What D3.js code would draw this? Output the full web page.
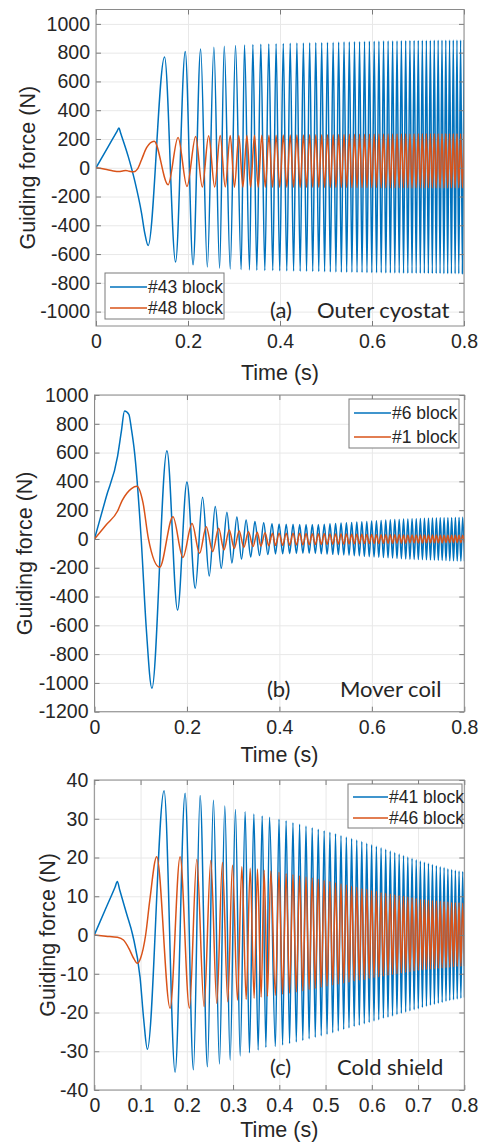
<!DOCTYPE html>
<html>
<head>
<meta charset="utf-8">
<script src="https://cdn.jsdelivr.net/npm/d3@7/dist/d3.min.js"></script>
<style>
  body { margin: 0; background: #fff; }
  svg { display: block; }
</style>
</head>
<body>
<svg id="chart" width="482" height="1143"></svg>
<script>
// ---------------------------------------------------------------------------
// Data
// ---------------------------------------------------------------------------

// times of the turning points in the dense part of every record (s)
const tailT = [
  0.3915, 0.39937, 0.40712, 0.41473, 0.4222, 0.42953, 0.43675, 0.44385, 0.45083, 0.45771,
  0.46449, 0.47117, 0.47776, 0.48425, 0.49066, 0.49699, 0.50324, 0.50941, 0.51551, 0.52154,
  0.5275, 0.53339, 0.53921, 0.54498, 0.55068, 0.55633, 0.56192, 0.56745, 0.57293, 0.57836,
  0.58374, 0.58907, 0.59435, 0.59958, 0.60477, 0.60992, 0.61502, 0.62008, 0.6251, 0.63008,
  0.63502, 0.63992, 0.64479, 0.64962, 0.65441, 0.65917, 0.66389, 0.66858, 0.67324, 0.67787,
  0.68246, 0.68702, 0.69156, 0.69606, 0.70054, 0.70498, 0.7094, 0.71379, 0.71816, 0.7225,
  0.72681, 0.73109, 0.73536, 0.73959, 0.74381, 0.748, 0.75216, 0.75631, 0.76043, 0.76453,
  0.7686, 0.77266, 0.77669, 0.78071, 0.7847, 0.78867, 0.79262, 0.79655, 0.80047,
];

// (a) Outer cyostat
const a43Early = [
  [0, 0], [0.025, 138], [0.046, 255], [0.05, 277], [0.053, 247], [0.07, 79], [0.0845, -95],
  [0.099, -315], [0.106, -454], [0.1133, -540], [0.149, 770], [0.173, -655], [0.194, 808],
  [0.211, -675], [0.2275, 825], [0.242, -690], [0.2563, 838], [0.2687, -698], [0.2788, 845],
  [0.2918, -703], [0.3033, 850], [0.3156, -707], [0.3228, 853], [0.3337, -710], [0.341, 856],
  [0.3496, -712], [0.3583, 858], [0.367, -714], [0.3756, 860], [0.3843, -715],
];
const a43Tail = [
  862, -716, 864, -717, 866, -718, 867, -719, 868, -720,
  869, -721, 870, -722, 871, -723, 872, -724, 873, -725,
  874, -726, 875, -727, 876, -727, 877, -728, 878, -728,
  879, -729, 880, -729, 880, -730, 881, -730, 882, -731,
  882, -731, 883, -732, 883, -732, 884, -733, 884, -733,
  885, -733, 885, -734, 885, -734, 886, -734, 886, -735,
  886, -735, 887, -735, 887, -735, 887, -736, 887, -736,
  888, -736, 888, -736, 888, -736, 888, -736, 888,
];
const a48Early = [
  [0, 0], [0.02, -10], [0.0375, -22], [0.05, -26], [0.058, -22], [0.065, -19], [0.072, -24],
  [0.0823, -28], [0.09, -10], [0.099, 56], [0.11, 140], [0.1264, 185], [0.1567, -118],
  [0.1784, 211], [0.1978, -130], [0.2167, 218], [0.2311, -134], [0.2449, 222], [0.258, -134],
  [0.27, 224], [0.281, -134], [0.2918, 225], [0.301, -135], [0.3105, 225], [0.3193, -135],
  [0.328, 225], [0.336, -135], [0.3445, 226], [0.3525, -135], [0.3605, 226], [0.368, -135],
  [0.376, 226], [0.3838, -135],
];
const a48Tail = [
  226, -135, 227, -135, 227, -135, 228, -136, 228, -136,
  229, -136, 229, -136, 230, -137, 230, -137, 230, -137,
  231, -137, 231, -137, 232, -138, 232, -138, 232, -138,
  233, -138, 233, -138, 233, -138, 234, -139, 234, -139,
  234, -139, 234, -139, 235, -139, 235, -139, 235, -139,
  235, -140, 235, -140, 236, -140, 236, -140, 236, -140,
  236, -140, 236, -140, 236, -140, 236, -140, 236, -140,
  236, -140, 236, -140, 236, -140, 236, -140, 236,
];

// (b) Mover coil
const b6Early = [
  [0, 0], [0.025, 288], [0.05, 576], [0.058, 745], [0.065, 889], [0.0743, 866], [0.08, 760],
  [0.0867, 600], [0.101, 0], [0.112, -620], [0.1242, -1037], [0.1567, 613], [0.1797, -494],
  [0.2, 396], [0.218, -343], [0.2338, 289], [0.2482, -257], [0.2612, 226], [0.2742, -204],
  [0.2865, 185], [0.2973, -167], [0.308, 152], [0.318, -140], [0.328, 132], [0.338, -125],
  [0.347, 122], [0.357, -115], [0.366, 112], [0.375, -108], [0.384, 106],
];
const b6Tail = [
  -104, 104, -103, 103, -102, 102, -101, 101, -100, 100,
  -100, 100, -101, 101, -103, 103, -105, 105, -107, 108,
  -109, 110, -111, 112, -113, 115, -116, 117, -118, 120,
  -121, 122, -123, 125, -125, 127, -127, 129, -129, 131,
  -131, 133, -133, 135, -135, 136, -137, 138, -139, 139,
  -141, 140, -142, 141, -143, 142, -144, 143, -145, 144,
  -146, 145, -147, 146, -148, 147, -149, 147, -150, 148,
  -151, 148, -152, 149, -153, 149, -154, 150, -155,
];
const b1Early = [
  [0, 0], [0.025, 97], [0.05, 194], [0.06, 268], [0.07, 318], [0.08, 350], [0.0917, 366],
  [0.105, 250], [0.1167, 0], [0.141, -197], [0.1697, 155], [0.1913, -128], [0.211, 108],
  [0.2273, -100], [0.2417, 85], [0.2556, -88], [0.2686, 74], [0.28, -76], [0.2915, 62],
  [0.3024, -65], [0.313, 55], [0.323, -58], [0.333, 50], [0.343, -53], [0.352, 46],
  [0.36, -50], [0.369, 43], [0.377, -47], [0.385, 40],
];
const b1Tail = [
  -45, 40, -44, 40, -43, 39, -42, 39, -41, 38,
  -40, 37, -39, 37, -38, 36, -37, 35, -36, 35,
  -36, 34, -35, 34, -34, 33, -34, 33, -33, 32,
  -32, 31, -32, 31, -31, 30, -31, 30, -30, 30,
  -30, 29, -30, 29, -29, 29, -29, 28, -29, 28,
  -28, 28, -28, 28, -28, 27, -28, 27, -27, 27,
  -27, 27, -27, 27, -27, 26, -27, 26, -26, 26,
  -26, 26, -26, 26, -26, 26, -26, 26, -26,
];

// (c) Cold shield
const c41Early = [
  [0, 0], [0.025, 6.9], [0.045, 12.4], [0.0498, 13.8], [0.055, 11.6], [0.07, 5.4], [0.083, 0],
  [0.099, -11], [0.107, -22], [0.1147, -29.5], [0.1509, 37.2], [0.1747, -35.4], [0.1963, 36.6],
  [0.2143, -34.8], [0.2288, 36], [0.2446, -34], [0.2576, 34.8], [0.2706, -33.3], [0.2822, 33.3],
  [0.2937, -32.3], [0.3052, 32.4], [0.3154, -31.2], [0.3262, 31.8], [0.3355, -30.4], [0.345, 31.2],
  [0.3543, -29.7], [0.363, 30.7], [0.371, -29], [0.3788, 30.4],
];
const c41Tail = [
  -28.8, 29.9, -28.4, 29.5, -28.0, 29.0, -27.6, 28.6, -27.2, 28.1,
  -26.8, 27.7, -26.4, 27.3, -26.0, 26.9, -25.6, 26.5, -25.2, 26.1,
  -24.8, 25.7, -24.4, 25.3, -24.0, 24.9, -23.6, 24.5, -23.3, 24.1,
  -22.9, 23.7, -22.6, 23.3, -22.2, 22.9, -21.9, 22.5, -21.5, 22.1,
  -21.2, 21.7, -20.9, 21.3, -20.5, 20.9, -20.2, 20.5, -19.9, 20.1,
  -19.6, 19.8, -19.3, 19.4, -19.0, 19.1, -18.7, 18.8, -18.4, 18.5,
  -18.1, 18.2, -17.9, 17.9, -17.6, 17.6, -17.4, 17.4, -17.1, 17.1,
  -16.9, 16.9, -16.7, 16.7, -16.5, 16.5, -16.3, 16.4, -16.1,
];
const c46Early = [
  [0, 0], [0.025, -0.3], [0.05, -0.6], [0.063, -1.3], [0.075, -3.5], [0.085, -6], [0.093, -7.3],
  [0.1, -6], [0.111, 0], [0.12, 9], [0.135, 20.2], [0.1639, -18.9], [0.1855, 20.2],
  [0.2057, -18.9], [0.2216, 19.5], [0.2374, -18.5], [0.2519, 19.2], [0.2649, -17.6], [0.277, 18.7],
  [0.2886, -17.2], [0.2987, 18], [0.3096, -16.8], [0.319, 17.6], [0.3284, -16.6], [0.337, 17.2],
  [0.3456, -16.3], [0.3528, 17], [0.3608, -16], [0.3672, 16.7], [0.3744, -15.8], [0.3816, 16.5],
];
const c46Tail = [
  -15.6, 16.2, -15.3, 15.9, -15.0, 15.6, -14.7, 15.3, -14.4, 15.0,
  -14.1, 14.7, -13.8, 14.4, -13.5, 14.1, -13.2, 13.8, -12.9, 13.5,
  -12.7, 13.2, -12.4, 12.9, -12.2, 12.6, -11.9, 12.3, -11.7, 12.0,
  -11.5, 11.8, -11.2, 11.5, -11.0, 11.3, -10.8, 11.0, -10.6, 10.8,
  -10.4, 10.6, -10.2, 10.4, -10.0, 10.2, -9.8, 10.0, -9.6, 9.8,
  -9.5, 9.6, -9.3, 9.4, -9.1, 9.2, -9.0, 9.1, -8.9, 9.0,
  -8.8, 8.9, -8.7, 8.8, -8.6, 8.7, -8.5, 8.6, -8.4, 8.5,
  -8.3, 8.4, -8.2, 8.3, -8.1, 8.3, -8.1, 8.2, -8.0,
];

// tick labels
const ticksX02 = [0, 0.2, 0.4, 0.6, 0.8];
const ticksX01 = [0, 0.1, 0.2, 0.3, 0.4, 0.5, 0.6, 0.7, 0.8];
const ticksYa = [-1000, -800, -600, -400, -200, 0, 200, 400, 600, 800, 1000];
const ticksYb = [-1200, -1000, -800, -600, -400, -200, 0, 200, 400, 600, 800, 1000];
const ticksYc = [-40, -30, -20, -10, 0, 10, 20, 30, 40];

// ---------------------------------------------------------------------------

const BLUE = '#0072BD';
const ORANGE = '#D95319';
const INK = '#262626';
const AXIS_FONT = "'Liberation Sans', Arimo, Arial, sans-serif";
const NOTE_FONT = "Lato, 'Open Sans', sans-serif";

const svg = d3.select('#chart');
svg.append('rect').attr('width', 482).attr('height', 1143).attr('fill', '#fff');

const withTail = (early, tail) => early.concat(tailT.map((t, i) => [t, tail[i]]));

function drawPanel(p, idx) {
  const x = d3.scaleLinear().domain([0, 0.8]).range([p.left, p.right]);
  const y = d3.scaleLinear().domain(p.yDomain).range([p.bottom, p.top]);
  const w = p.right - p.left;
  const h = p.bottom - p.top;
  const g = svg.append('g');

  // grid
  g.append('g')
    .attr('transform', `translate(0,${p.bottom})`)
    .call(d3.axisBottom(x).tickValues(p.xTicks).tickSize(-h).tickFormat(''))
    .call((s) => s.select('.domain').remove())
    .selectAll('line').attr('stroke', '#e8e8e8');
  g.append('g')
    .attr('transform', `translate(${p.left},0)`)
    .call(d3.axisLeft(y).tickValues(p.yTicks).tickSize(-w).tickFormat(''))
    .call((s) => s.select('.domain').remove())
    .selectAll('line').attr('stroke', '#e8e8e8');

  // data lines
  const clipId = `clip${idx}`;
  g.append('clipPath').attr('id', clipId)
    .append('rect').attr('x', p.left).attr('y', p.top).attr('width', w).attr('height', h);
  const line = d3.line()
    .x((d) => x(d[0]))
    .y((d) => y(d[1]))
    .curve(d3.curveMonotoneX);
  p.series.forEach((s) => {
    g.append('path')
      .attr('clip-path', `url(#${clipId})`)
      .attr('d', line(s.data))
      .attr('fill', 'none')
      .attr('stroke', s.color)
      .attr('stroke-width', 1.5)
      .attr('stroke-linejoin', 'round');
  });

  // axes, ticks pointing inwards on all four sides
  const styleAxis = (s) => {
    s.select('.domain').remove();
    s.selectAll('.tick line').attr('stroke', '#7a7a7a');
    s.selectAll('.tick text')
      .attr('fill', INK)
      .attr('font-family', AXIS_FONT)
      .attr('font-size', 19.5);
  };
  g.append('g')
    .attr('transform', `translate(0,${p.bottom})`)
    .call(d3.axisBottom(x).tickValues(p.xTicks).tickSize(-5).tickPadding(8)
      .tickFormat((d) => `${d}`))
    .call(styleAxis);
  g.append('g')
    .attr('transform', `translate(0,${p.top})`)
    .call(d3.axisTop(x).tickValues(p.xTicks).tickSize(-5).tickFormat(''))
    .call(styleAxis);
  g.append('g')
    .attr('transform', `translate(${p.left},0)`)
    .call(d3.axisLeft(y).tickValues(p.yTicks).tickSize(-5).tickPadding(6)
      .tickFormat((d) => `${d}`))
    .call(styleAxis);
  g.append('g')
    .attr('transform', `translate(${p.right},0)`)
    .call(d3.axisRight(y).tickValues(p.yTicks).tickSize(-5).tickFormat(''))
    .call(styleAxis);

  g.append('rect')
    .attr('x', p.left).attr('y', p.top).attr('width', w).attr('height', h)
    .attr('fill', 'none').attr('stroke', '#8a8a8a').attr('stroke-width', 1);

  // axis titles
  g.append('text')
    .attr('x', (p.left + p.right) / 2).attr('y', p.xTitleY)
    .attr('text-anchor', 'middle')
    .attr('fill', INK)
    .attr('font-family', AXIS_FONT).attr('font-size', 21.5)
    .text('Time (s)');
  g.append('text')
    .attr('transform', `translate(${p.yTitleX},${(p.top + p.bottom) / 2}) rotate(-90)`)
    .attr('text-anchor', 'middle')
    .attr('dy', '0.35em')
    .attr('fill', INK)
    .attr('font-family', AXIS_FONT).attr('font-size', 21.5)
    .text('Guiding force (N)');

  // panel notes
  g.append('text')
    .attr('x', p.tagX).attr('y', p.noteY)
    .attr('fill', INK)
    .attr('font-family', NOTE_FONT).attr('font-size', 22)
    .text(p.tag);
  g.append('text')
    .attr('x', p.noteX).attr('y', p.noteY)
    .attr('fill', INK)
    .attr('font-family', NOTE_FONT).attr('font-size', 22)
    .text(p.note);

  // legend
  const lg = g.append('g').attr('transform', `translate(${p.legend.x},${p.legend.y})`);
  lg.append('rect')
    .attr('width', p.legend.w).attr('height', p.legend.h)
    .attr('fill', '#fff').attr('stroke', '#7a7a7a').attr('stroke-width', 1);
  p.series.forEach((s, i) => {
    const cy = p.legend.row0 + i * p.legend.step;
    lg.append('line')
      .attr('x1', 5).attr('x2', p.legend.lineW + 5)
      .attr('y1', cy).attr('y2', cy)
      .attr('stroke', s.color).attr('stroke-width', 1.5);
    lg.append('text')
      .attr('x', p.legend.lineW + 6).attr('y', cy)
      .attr('dy', '0.36em')
      .attr('fill', INK)
      .attr('font-family', AXIS_FONT).attr('font-size', 17.5)
      .text(s.name);
  });
}

const panels = [
  {
    left: 96, right: 464, top: 9.5, bottom: 326,
    yDomain: [-1100, 1100], yTicks: ticksYa, xTicks: ticksX02,
    xTitleY: 380, yTitleX: 27,
    tag: '(a)', tagX: 270, note: 'Outer cyostat', noteX: 317, noteY: 318,
    legend: { x: 105, y: 273, w: 119, h: 46, row0: 14, step: 21, lineW: 37 },
    series: [
      { name: '#43 block', color: BLUE, data: withTail(a43Early, a43Tail) },
      { name: '#48 block', color: ORANGE, data: withTail(a48Early, a48Tail) },
    ],
  },
  {
    left: 94.5, right: 464.3, top: 395, bottom: 711.7,
    yDomain: [-1200, 1000], yTicks: ticksYb, xTicks: ticksX02,
    xTitleY: 762, yTitleX: 24,
    tag: '(b)', tagX: 267, note: 'Mover coil', noteX: 340, noteY: 697,
    legend: { x: 349, y: 399, w: 110, h: 49, row0: 14, step: 24, lineW: 37 },
    series: [
      { name: '#6 block', color: BLUE, data: withTail(b6Early, b6Tail) },
      { name: '#1 block', color: ORANGE, data: withTail(b1Early, b1Tail) },
    ],
  },
  {
    left: 94.3, right: 464.3, top: 780, bottom: 1090,
    yDomain: [-40, 40], yTicks: ticksYc, xTicks: ticksX01,
    xTitleY: 1137, yTitleX: 47,
    tag: '(c)', tagX: 270, note: 'Cold shield', noteX: 337, noteY: 1075,
    legend: { x: 348, y: 784, w: 114, h: 44, row0: 13, step: 21, lineW: 35 },
    series: [
      { name: '#41 block', color: BLUE, data: withTail(c41Early, c41Tail) },
      { name: '#46 block', color: ORANGE, data: withTail(c46Early, c46Tail) },
    ],
  },
];

panels.forEach(drawPanel);
</script>
</body>
</html>
